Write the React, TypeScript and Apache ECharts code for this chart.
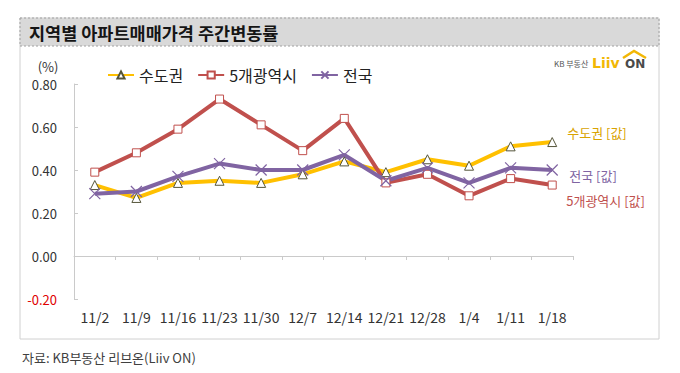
import React, { useEffect, useRef } from "react";
import * as echarts from "echarts";

const categories = ["11/2", "11/9", "11/16", "11/23", "11/30", "12/7", "12/14", "12/21", "12/28", "1/4", "1/11", "1/18"];
const sudogwon = [0.33, 0.27, 0.34, 0.35, 0.34, 0.38, 0.44, 0.39, 0.45, 0.42, 0.51, 0.53];
const metro5 = [0.39, 0.48, 0.59, 0.73, 0.61, 0.49, 0.64, 0.34, 0.38, 0.28, 0.36, 0.33];
const national = [0.29, 0.30, 0.37, 0.43, 0.40, 0.40, 0.47, 0.35, 0.41, 0.34, 0.41, 0.40];
const seriesNames = ["수도권", "5개광역시", "전국"];
const endLabels = ["수도권 [값]", "5개광역시 [값]", "전국 [값]"];
const yTicks = { min: -0.2, max: 0.8, interval: 0.2 };
const titleText = "지역별 아파트매매가격 주간변동률";
const sourceText = "자료: KB부동산 리브온(Liiv ON)";

const FONT = "'Noto Sans CJK KR', 'Noto Sans', sans-serif";
const AXIS = "#cacaca";

export default function App() {
  const ref = useRef<HTMLDivElement>(null);
  useEffect(() => {
    document.body.style.margin = "0";
    const chart = echarts.init(ref.current!, null, { renderer: "svg" });
    const option: any = {
      animation: false,
      backgroundColor: "#ffffff",
      textStyle: { fontFamily: FONT },
      grid: { left: 74, right: 107, top: 84, bottom: 74, containLabel: false },
      legend: {
        left: 102,
        top: 62,
        itemWidth: 26,
        itemHeight: 9,
        itemGap: 14,
        textStyle: { fontSize: 16, color: "#222", fontFamily: FONT },
        data: seriesNames,
      },
      xAxis: {
        type: "category",
        data: categories,
        boundaryGap: true,
        axisLine: { show: true, onZero: true, lineStyle: { color: AXIS, width: 1 } },
        axisTick: { show: true, length: 4, lineStyle: { color: AXIS } },
        axisLabel: { margin: 11, fontSize: 14, color: "#333", fontFamily: FONT, interval: 0 },
        splitLine: { show: false },
      },
      yAxis: {
        type: "value",
        min: yTicks.min,
        max: yTicks.max,
        interval: yTicks.interval,
        axisLine: { show: true, lineStyle: { color: AXIS } },
        axisTick: { show: true, inside: true, length: 4, lineStyle: { color: AXIS } },
        splitLine: { show: false },
        axisLabel: {
          margin: 17,
          fontSize: 13,
          fontFamily: FONT,
          formatter: (v: number) => v.toFixed(2),
          color: (v: any) => (Number(v) < 0 ? "#e00000" : "#333"),
        },
      },
      graphic: [
        { type: "rect", z: -10, shape: { x: 20, y: 18, width: 639, height: 321 }, style: { fill: "#fff", stroke: "#d0d0d0", lineWidth: 1 } },
        { type: "rect", z: -9, shape: { x: 20, y: 18, width: 639, height: 28 }, style: { fill: "#d9d9d9", stroke: "#a0a0a0", lineWidth: 1, lineDash: [2, 2] } },
        { type: "text", x: 29, y: 32, style: { text: titleText, font: `bold 17.5px ${FONT}`, fill: "#151515", verticalAlign: "middle" } },
        { type: "text", x: 48, y: 66, style: { text: "(%)", font: `13px ${FONT}`, fill: "#333", align: "center", verticalAlign: "middle" } },
        { type: "text", x: 22, y: 357, style: { text: sourceText, font: `13px ${FONT}`, fill: "#404040", verticalAlign: "middle" } },
        { type: "text", x: 554, y: 63, style: { text: "KB 부동산", font: `8px ${FONT}`, fill: "#555", verticalAlign: "middle" } },
        { type: "text", x: 592, y: 63, style: { text: "Liiv", font: `bold 14px 'DejaVu Sans', sans-serif`, fill: "#f2b705", verticalAlign: "middle" } },
        { type: "text", x: 625, y: 64, style: { text: "ON", font: `bold 12px 'DejaVu Sans', sans-serif`, fill: "#4a4a4a", verticalAlign: "middle" } },
        { type: "polyline", shape: { points: [[623, 58], [634, 51], [646, 58]] }, style: { stroke: "#f2b705", lineWidth: 2.5, fill: "none" } },
      ],
      series: [
        {
          name: seriesNames[0],
          type: "line",
          data: sudogwon,
          lineStyle: { color: "#ffc000", width: 4 },
          symbol: "triangle",
          symbolSize: 9,
          itemStyle: { color: "#ffffff", borderColor: "#55553a", borderWidth: 1 },
          endLabel: { show: true, formatter: endLabels[0], color: "#d9a300", fontSize: 13, fontFamily: FONT, distance: 5, offset: [10, -10] },
        },
        {
          name: seriesNames[1],
          type: "line",
          data: metro5,
          lineStyle: { color: "#c0504d", width: 4 },
          symbol: "rect",
          symbolSize: 8,
          itemStyle: { color: "#ffffff", borderColor: "#c0504d", borderWidth: 1 },
          endLabel: { show: true, formatter: endLabels[1], color: "#c0504d", fontSize: 13, fontFamily: FONT, distance: 5, offset: [9, 15] },
        },
        {
          name: seriesNames[2],
          type: "line",
          data: national,
          lineStyle: { color: "#8064a2", width: 4 },
          symbol: "path://M0,0L10,10M10,0L0,10",
          symbolSize: 11,
          itemStyle: { color: "#8064a2", borderColor: "#8064a2", borderWidth: 1.2 },
          endLabel: { show: true, formatter: endLabels[2], color: "#8064a2", fontSize: 13, fontFamily: FONT, distance: 5, offset: [12, 5] },
        },
      ],
    };
    chart.setOption(option);
    return () => chart.dispose();
  }, []);
  return <div ref={ref} style={{ width: 680, height: 373 }} />;
}
